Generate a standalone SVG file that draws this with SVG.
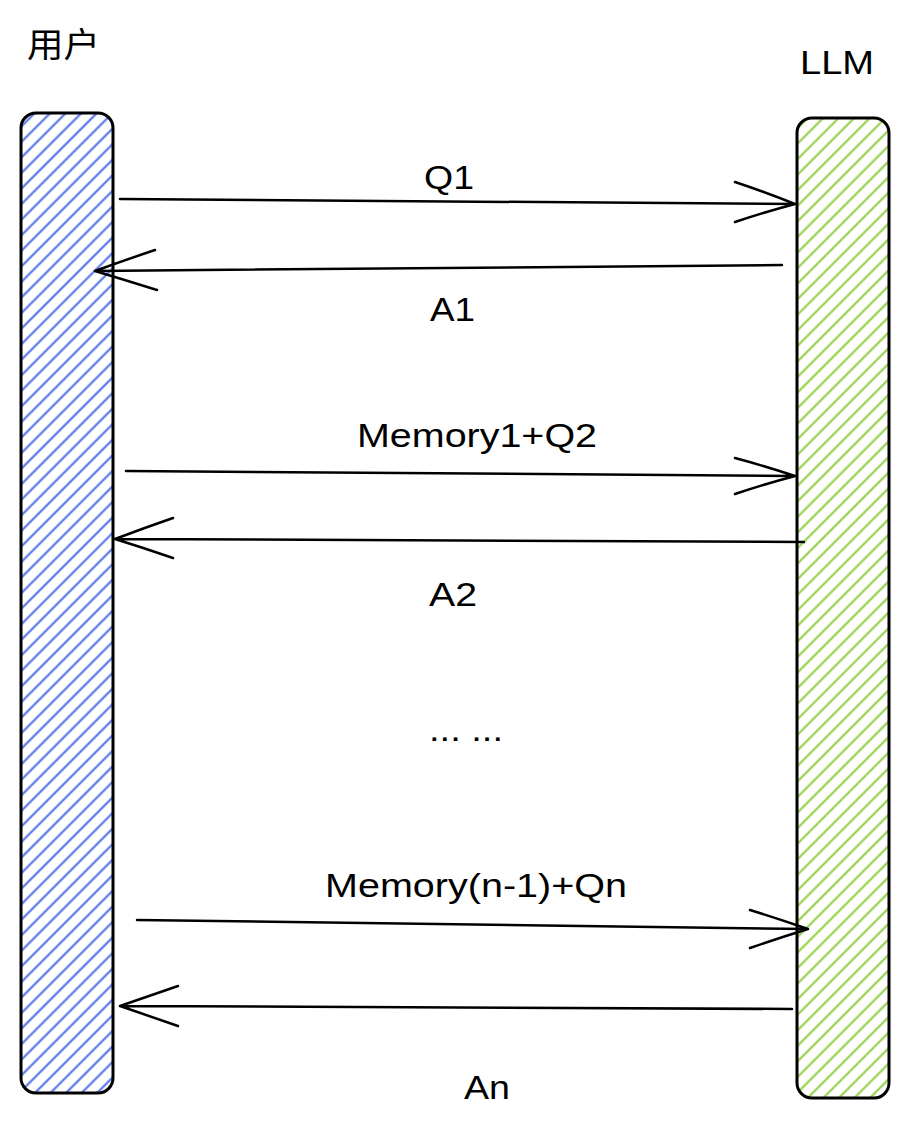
<svg xmlns="http://www.w3.org/2000/svg" width="909" height="1128" viewBox="0 0 909 1128">
<style>
.t{font-family:"Liberation Sans",Arial,"Noto Sans CJK SC",sans-serif;font-size:34px;fill:#000}
.bar{stroke:#000;stroke-width:3}
.ln{fill:none;stroke:#000;stroke-width:2.5;stroke-linecap:round;stroke-linejoin:round}
</style>
<defs>
<pattern id="hb" patternUnits="userSpaceOnUse" width="11" height="11" patternTransform="rotate(-45)">
<rect width="11" height="11" fill="#fff"/>
<line x1="0" y1="5.5" x2="11" y2="5.5" stroke="#4a6ae6" stroke-width="2"/>
</pattern>
<pattern id="hg" patternUnits="userSpaceOnUse" width="11" height="11" patternTransform="rotate(-45)">
<rect width="11" height="11" fill="#fff"/>
<line x1="0" y1="5.5" x2="11" y2="5.5" stroke="#8ccd3c" stroke-width="2"/>
</pattern>
</defs>
<rect width="909" height="1128" fill="#fff"/>
<g id="user">
<rect class="bar" x="21" y="113" width="92" height="980" rx="15" fill="url(#hb)"/>
<text class="t" x="27" y="57" textLength="73" lengthAdjust="spacingAndGlyphs">用户</text>
</g>
<g id="llm">
<rect class="bar" x="797" y="118" width="92" height="980" rx="15" fill="url(#hg)"/>
<text class="t" x="800" y="74" textLength="74" lengthAdjust="spacingAndGlyphs">LLM</text>
</g>
<g id="connectors">
<path class="ln" d="M120 199 L795 204 M735 182 Q765 192 795 204 Q765 212 735 222"/>
<path class="ln" d="M782 265 L95 271 M155 250 Q125 260 95 271 Q125 280 157 290"/>
<path class="ln" d="M126 471 L795 476 M735 458 Q765 466 795 476 Q765 484 735 494"/>
<path class="ln" d="M804 542 L115 539 M173 518 Q144 528 115 539 Q144 548 173 558"/>
<path class="ln" d="M137 920 L808 929 M750 910 Q779 919 808 929 Q779 938 750 948"/>
<path class="ln" d="M792 1009 L120 1006 M178 986 Q149 996 120 1006 Q149 1016 178 1026"/>
</g>
<g id="labels">
<text class="t" x="424" y="189" textLength="50" lengthAdjust="spacingAndGlyphs">Q1</text>
<text class="t" x="430" y="321" textLength="45" lengthAdjust="spacingAndGlyphs">A1</text>
<text class="t" x="357" y="447" textLength="240" lengthAdjust="spacingAndGlyphs">Memory1+Q2</text>
<text class="t" x="429" y="606" textLength="48" lengthAdjust="spacingAndGlyphs">A2</text>
<text class="t" x="429" y="741" textLength="74" lengthAdjust="spacingAndGlyphs">... ...</text>
<text class="t" x="325" y="897" textLength="302" lengthAdjust="spacingAndGlyphs">Memory(n-1)+Qn</text>
<text class="t" x="464" y="1099" textLength="46" lengthAdjust="spacingAndGlyphs">An</text>
</g>
</svg>
